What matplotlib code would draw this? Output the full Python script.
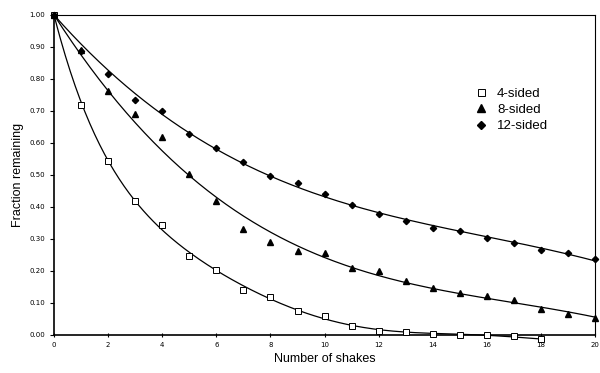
import numpy as np
import matplotlib.pyplot as plt

shakes = list(range(21))

# fraction of dice remaining after each shake
four_sided = [1.00, 0.72, 0.545, 0.42, 0.343, 0.247, 0.203, 0.141, 0.12, 0.076,
              0.059, 0.029, 0.013, 0.010, 0.003, 0.001, 0.000, -0.004, -0.014]
eight_sided = [1.00, 0.89, 0.763, 0.69, 0.62, 0.503, 0.419, 0.33, 0.292, 0.263,
               0.255, 0.21, 0.201, 0.17, 0.147, 0.131, 0.122, 0.109, 0.081,
               0.066, 0.053]
twelve_sided = [1.00, 0.888, 0.816, 0.734, 0.70, 0.627, 0.585, 0.54, 0.498,
                0.474, 0.44, 0.406, 0.379, 0.357, 0.335, 0.326, 0.304, 0.286,
                0.265, 0.255, 0.238]

series = [
    ("4-sided", four_sided, dict(marker='s', mfc='white', mec='black', ms=4.2, mew=0.7), 6),
    ("8-sided", eight_sided, dict(marker='^', mfc='black', mec='black', ms=4.5), 3),
    ("12-sided", twelve_sided, dict(marker='D', mfc='black', mec='black', ms=3.2), 3),
]

fig = plt.figure(figsize=(6, 3.73), dpi=100)
ax = fig.add_axes([0.09, 0.102, 0.902, 0.858])

for name, vals, style, deg in series:
    x = np.array(shakes[:len(vals)])
    y = np.array(vals)
    # polynomial trend line, pinned to start at 1.0
    w = np.ones(len(x))
    w[0] = 30
    coef = np.polyfit(x, y, deg, w=w)
    xs = np.linspace(x[0], x[-1], 300)
    ax.plot(xs, np.polyval(coef, xs), color='black', lw=0.9, clip_on=False, zorder=2)
    ax.plot(x, y, ls='none', label=name, clip_on=False, zorder=3, **style)

ax.set_xlim(0, 20)
ax.set_ylim(0, 1)
ax.set_xticks(range(0, 21, 2))
ax.set_yticks(np.arange(0, 1.01, 0.1))
ax.set_yticklabels([f"{v:.2f}" for v in np.arange(0, 1.01, 0.1)])
ax.tick_params(axis='both', labelsize=5, length=3, width=0.8)
ax.tick_params(axis='x', direction='inout')

for side in ['left', 'bottom']:
    ax.spines[side].set_linewidth(1.2)
for side in ['top', 'right']:
    ax.spines[side].set_linewidth(0.8)

ax.set_xlabel("Number of shakes", fontsize=9, family='Liberation Sans', labelpad=4)
ax.set_ylabel("Fraction remaining", fontsize=9, family='Liberation Sans', labelpad=4)

leg = ax.legend(loc='upper left', bbox_to_anchor=(0.76, 0.81), frameon=False,
                prop={'family': 'Liberation Sans', 'size': 9.5}, markerscale=1.2,
                handlelength=0.6, handletextpad=0.9, labelspacing=0.3)

fig.savefig("out.png", dpi=100)
